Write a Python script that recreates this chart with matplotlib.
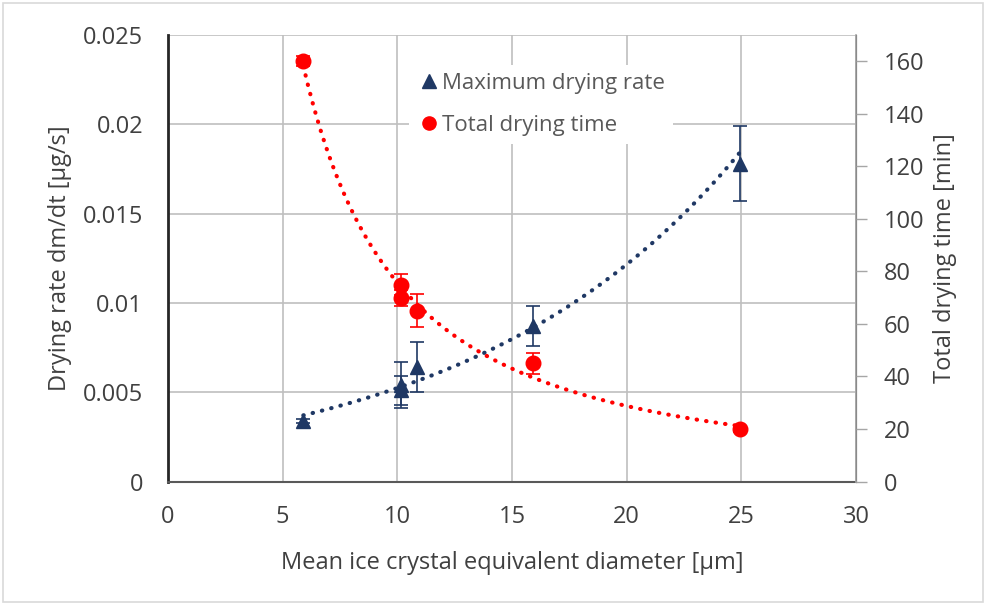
import numpy as np
import matplotlib
matplotlib.use("Agg")
import matplotlib.pyplot as plt
from matplotlib.patches import Rectangle
from matplotlib.lines import Line2D

plt.rcParams['font.family'] = ['Open Sans', 'DejaVu Sans']

# Maximum drying rate (left axis)
rate_x = [5.9, 10.15, 10.15, 10.85, 15.9, 24.95]
rate_y = [0.0034, 0.0054, 0.0051, 0.0064, 0.0087, 0.0178]
rate_err = [0.0001, 0.0013, 0.0008, 0.0014, 0.0011, 0.0021]

# Total drying time (right axis)
time_x = [5.9, 10.15, 10.15, 10.85, 15.9, 24.95]
time_y = [160, 75, 70, 65, 45, 20]
time_err = [2, 4, 3, 6.3, 4, 1]

navy = '#1f3864'
red = '#ff0000'
txt = '#404040'

fig = plt.figure(figsize=(9.86, 6.04), dpi=100)
fig.patches.append(Rectangle((0.003, 0.003), 0.994, 0.992, transform=fig.transFigure,
                             fill=False, edgecolor='#d9d9d9', linewidth=1.2))
ax = fig.add_axes([0.1704, 0.2028, 0.6977, 0.7393])
ax2 = ax.twinx()

# trend lines: exponential for rate, power for time
xr = np.linspace(min(rate_x), max(rate_x), 200)
b, lna = np.polyfit(rate_x, np.log(rate_y), 1)
ax.plot(xr, np.exp(lna) * np.exp(b * xr), color=navy, linestyle=(0, (0.1, 2.2)),
        linewidth=3, dash_capstyle='round', zorder=2)
p, lnc = np.polyfit(np.log(time_x), np.log(time_y), 1)
ax2.plot(xr, np.exp(lnc) * xr ** p, color=red, linestyle=(0, (0.1, 2.2)),
         linewidth=3, dash_capstyle='round', zorder=2)

ax.errorbar(rate_x, rate_y, yerr=rate_err, fmt='^', color=navy, markersize=10.5,
            ecolor=navy, elinewidth=1.2, capsize=5, capthick=1.2, zorder=3)
ax2.errorbar(time_x, time_y, yerr=time_err, fmt='o', color=red, markersize=10.5,
             ecolor=red, elinewidth=1.2, capsize=5, capthick=1.2, zorder=3)

ax.set_xlim(0, 30)
ax.set_ylim(0, 0.025)
ax2.set_ylim(0, 170)
ax.set_xticks(np.arange(0, 31, 5))
ax.set_yticks([0, 0.005, 0.01, 0.015, 0.02, 0.025])
ax.set_yticklabels(['0', '0.005', '0.01', '0.015', '0.02', '0.025'])
ax2.set_yticks(np.arange(0, 161, 20))

ax.grid(True, color='#bfbfbf', linewidth=1.2)
ax.set_axisbelow(True)
ax.tick_params(axis='both', length=0, labelsize=17, colors=txt)
ax.tick_params(axis='y', pad=18)
ax.tick_params(axis='x', pad=17)
ax2.tick_params(axis='y', length=8, width=1, color='#a6a6a6', labelsize=17,
                labelcolor=txt, pad=12)

for a in (ax, ax2):
    a.spines['top'].set_visible(False)
ax.spines['left'].set_color('#262626')
ax.spines['left'].set_linewidth(2)
ax.spines['bottom'].set_color('#595959')
ax.spines['bottom'].set_linewidth(1.5)
ax2.spines['right'].set_color('#a6a6a6')
ax2.spines['right'].set_linewidth(1.2)
ax2.spines['left'].set_visible(False)
ax2.spines['bottom'].set_visible(False)

ax.set_xlabel('Mean ice crystal equivalent diameter [µm]', fontsize=17, color=txt, labelpad=16)
ax.set_ylabel('Drying rate dm/dt [µg/s]', fontsize=17, color=txt, labelpad=8)
ax2.set_ylabel('Total drying time [min]', fontsize=17, color=txt, labelpad=6)

handles = [Line2D([], [], marker='^', color=navy, linestyle='none', markersize=9.5),
           Line2D([], [], marker='o', color=red, linestyle='none', markersize=9.5)]
leg = ax2.legend(handles, ['Maximum drying rate', 'Total drying time'],
                 loc='upper left', bbox_to_anchor=(0.334, 0.957), frameon=True,
                 fontsize=16, handletextpad=0.05, handlelength=1.1, labelspacing=0.95,
                 borderpad=0.35)
leg.get_frame().set_facecolor('white')
leg.get_frame().set_edgecolor('none')
leg.get_frame().set_alpha(1)
for t in leg.get_texts():
    t.set_color('#595959')

fig.savefig('out.png', dpi=100)
